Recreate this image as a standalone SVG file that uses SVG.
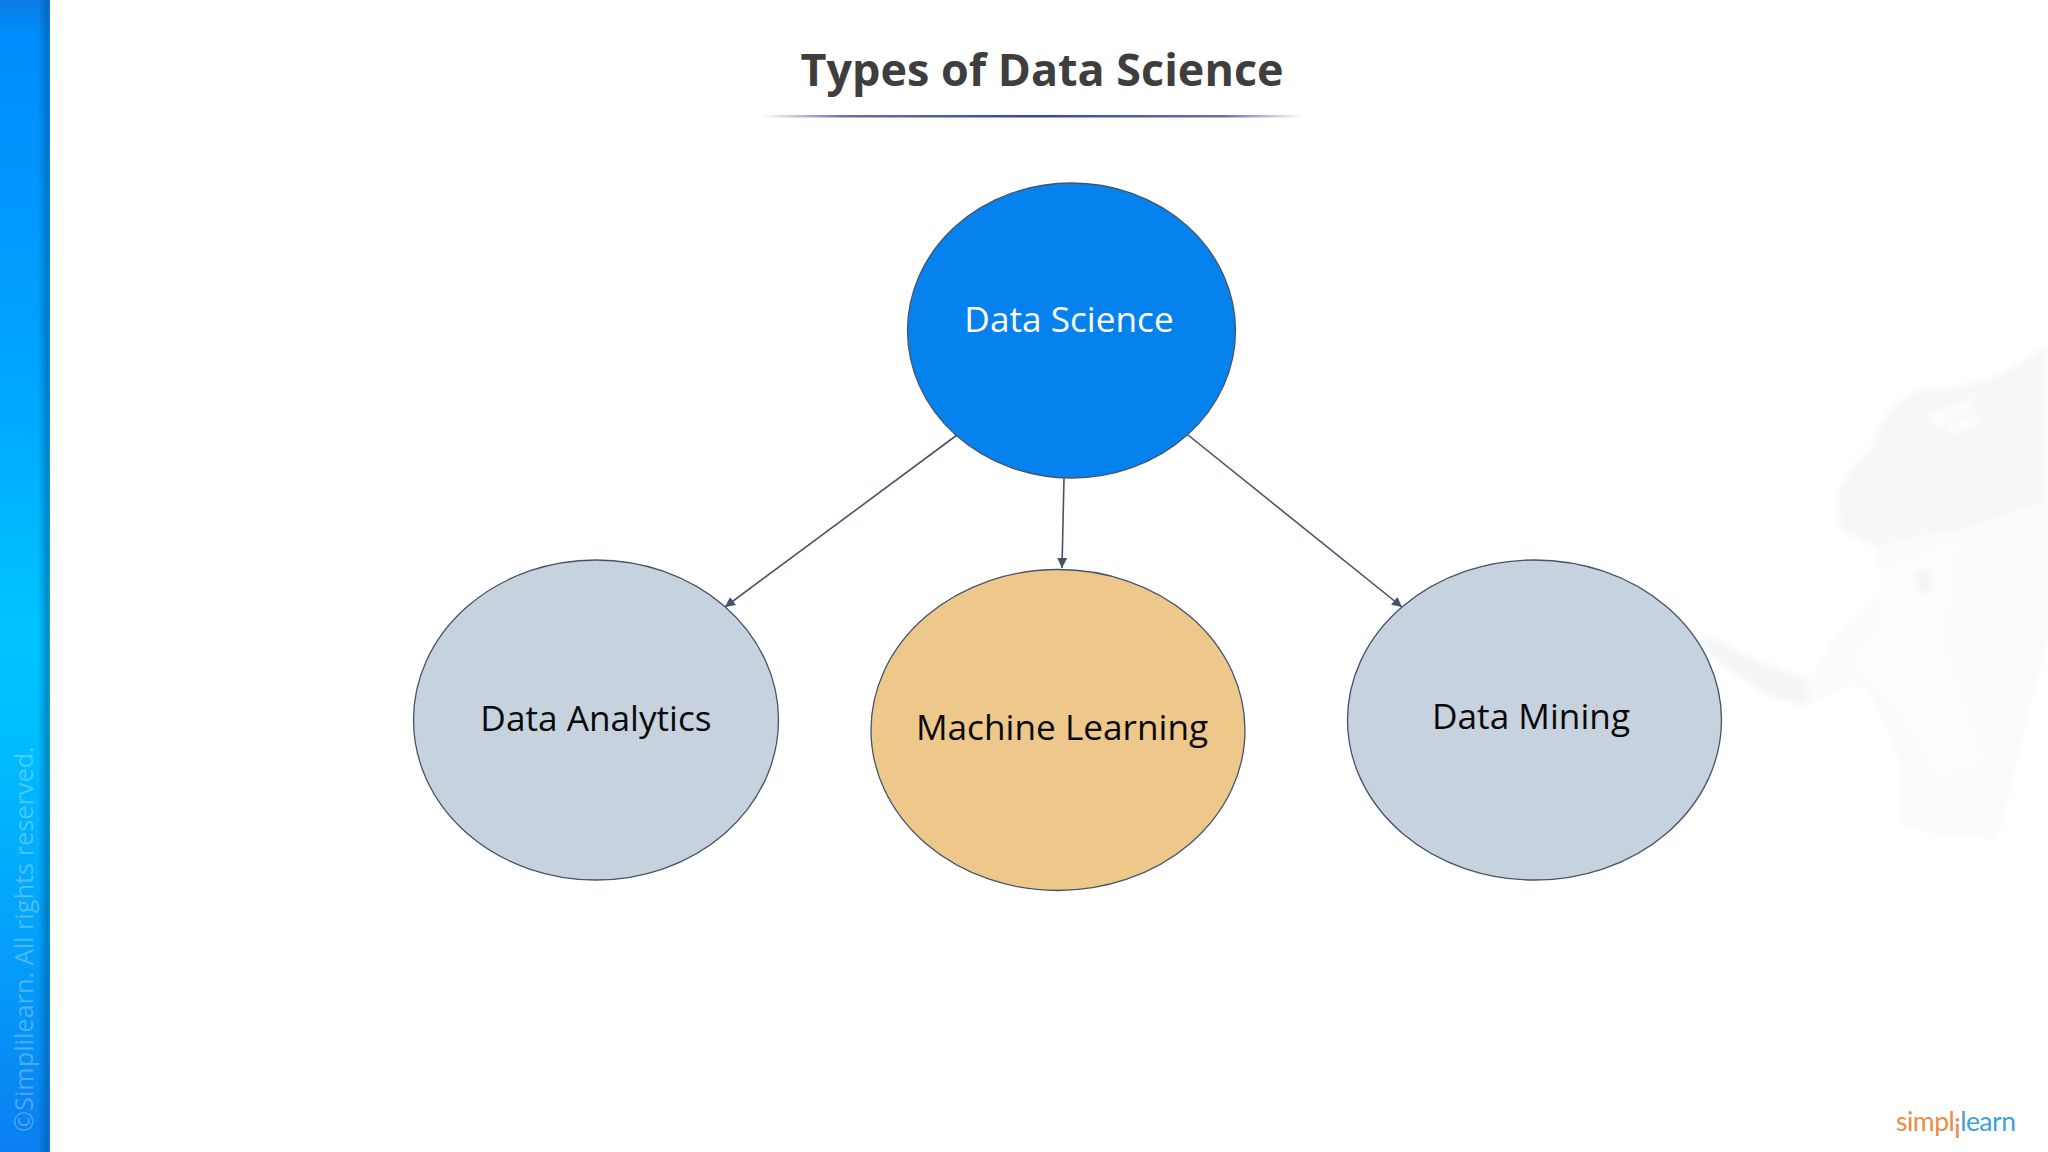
<svg xmlns="http://www.w3.org/2000/svg" width="2048" height="1152" viewBox="0 0 2048 1152">
<style>
.node{stroke:#44546a;stroke-width:1.3}
.label{font-family:"Open Sans","Liberation Sans",sans-serif;font-size:35.2px;text-anchor:middle;fill:#0a0a0a}
.conn{stroke:#44546a;stroke-width:1.6;fill:none;marker-end:url(#arrow)}
</style>
<defs>
<linearGradient id="bar" x1="0" y1="0" x2="0" y2="1">
<stop offset="0" stop-color="#0a7ce4"/><stop offset=".03" stop-color="#008cfc"/><stop offset=".3" stop-color="#00a2ff"/><stop offset=".55" stop-color="#00c4ff"/><stop offset=".65" stop-color="#00bcff"/><stop offset=".82" stop-color="#04a0fa"/><stop offset="1" stop-color="#0a7ef0"/>
</linearGradient>
<linearGradient id="barEdge" x1="0" y1="0" x2="1" y2="0">
<stop offset="0" stop-color="#00508c" stop-opacity="0"/><stop offset=".85" stop-color="#00508c" stop-opacity=".5"/><stop offset="1" stop-color="#3070c0" stop-opacity=".3"/>
</linearGradient>
<linearGradient id="rule" x1="0" y1="0" x2="1" y2="0">
<stop offset="0" stop-color="#3b4f9f" stop-opacity="0"/><stop offset=".15" stop-color="#3b4f9f" stop-opacity=".8"/><stop offset=".5" stop-color="#34479e"/><stop offset=".85" stop-color="#3b4f9f" stop-opacity=".8"/><stop offset="1" stop-color="#3b4f9f" stop-opacity="0"/>
</linearGradient>
<marker id="arrow" markerUnits="userSpaceOnUse" markerWidth="11" markerHeight="11" refX="10" refY="5" orient="auto">
<path d="M0 0L10 5L0 10Z" fill="#44546a"/>
</marker>
<filter id="soft" x="-5%" y="-5%" width="110%" height="110%"><feGaussianBlur stdDeviation="3"/></filter>
</defs>
<rect width="2048" height="1152" fill="#fff"/>
<g id="watermark" filter="url(#soft)">
<path fill="#fafbfb" d="M2048 345L2000 375L1967 385L1917 390L1890 409L1877 430L1875 444L1857 461L1837 492L1840 530L1877 547L1880 571L1890 585L1870 606L1837 633L1810 678L1750 658L1717 640L1700 635L1713 658L1767 695L1807 706L1847 685L1867 689L1883 720L1900 764L1902 827L1950 837L1997 839L2003 820L2027 720L2048 640Z"/>
<path fill="#f6f7f7" d="M2048 345L2000 375L1967 385L1917 390L1890 409L1877 430L1875 444L1857 461L1837 492L1840 530L1877 547L1925 535L1960 530L2048 500Z"/>
<path fill="#f4f5f6" d="M1700 635L1717 640L1750 658L1808 680L1807 706L1767 695L1713 658Z"/>
<path fill="#fdfdfd" d="M1880 571L1960 535L1945 640L1985 760L1940 780L1890 700L1850 660L1880 620Z"/>
<path fill="#fdfdfd" d="M1925 415L1975 398L1972 408L1935 428ZM1945 425L1985 412L1975 425L1950 435Z"/>
<path fill="#f3f4f5" d="M1915 570L1930 572L1932 592L1918 592Z"/>
</g>
<g id="sidebar">
<rect width="50" height="1152" fill="url(#bar)"/>
<rect x="38" width="12" height="1152" fill="url(#barEdge)"/>
<text transform="translate(33 1132) rotate(-90)" font-family="'Open Sans','Liberation Sans',sans-serif" font-size="25.300" fill="#fff" fill-opacity=".28">©Simplilearn. All rights reserved.</text>
</g>
<g id="title">
<text x="1042" y="86" font-family="'Open Sans','Liberation Sans',sans-serif" font-size="44.900" font-weight="700" text-anchor="middle" fill="#3e3e3e">Types of Data Science</text>
<rect x="762" y="115" width="542" height="2.500" fill="url(#rule)"/>
</g>
<g id="connectors">
<line class="conn" x1="957" y1="435" x2="725" y2="607"/>
<line class="conn" x1="1064" y1="478" x2="1062" y2="568"/>
<line class="conn" x1="1188" y1="435" x2="1402" y2="607"/>
</g>
<g id="node-data-science">
<ellipse class="node" cx="1071.500" cy="330.500" rx="164" ry="147.500" fill="#0582ee"/>
<text class="label" x="1069" y="332" style="fill:#fff">Data Science</text>
</g>
<g id="node-data-analytics">
<ellipse class="node" cx="596" cy="720" rx="182.500" ry="160" fill="#c6d2de"/>
<text class="label" x="596" y="731">Data Analytics</text>
</g>
<g id="node-machine-learning">
<ellipse class="node" cx="1058" cy="730" rx="187" ry="160.500" fill="#eec78a"/>
<text class="label" x="1062" y="740">Machine Learning</text>
</g>
<g id="node-data-mining">
<ellipse class="node" cx="1534.500" cy="720" rx="187" ry="160" fill="#c6d2de"/>
<text class="label" x="1531" y="729">Data Mining</text>
</g>
<g id="logo">
<text x="1896" y="1131" font-family="Lato,'Open Sans',sans-serif" font-size="26.500" letter-spacing="-.5"><tspan fill="#f08a42">simpl</tspan><tspan fill="#f08a42" dy="7">i</tspan><tspan fill="#3f9fdc" dy="-7">learn</tspan></text>
</g>
</svg>
